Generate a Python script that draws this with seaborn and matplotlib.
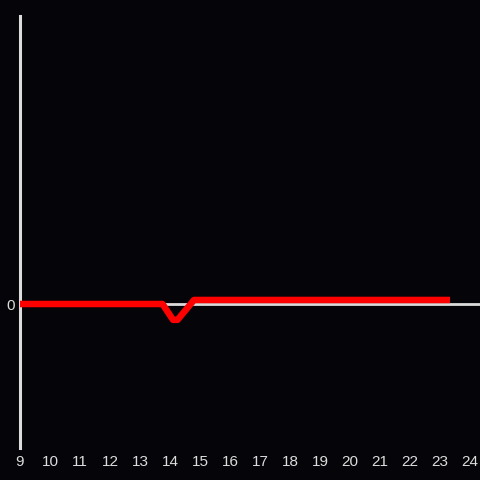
import pandas as pd
import matplotlib
matplotlib.use('Agg')
import matplotlib.pyplot as plt
import seaborn as sns

# horas do dia e valor da serie
horas = [9.0, 13.75, 14.1, 14.25, 14.8, 23.33]
valores = [0.0, 0.0, -0.11, -0.11, 0.028, 0.028]
ticks_x = list(range(9, 25))

df = pd.DataFrame({'hora': horas, 'valor': valores})

sns.set_style('dark')
plt.rcParams['font.family'] = ['Liberation Sans', 'DejaVu Sans']

fundo = '#050408'
cinza = '#dcdcdc'

fig = plt.figure(figsize=(4.8, 4.8), dpi=100, facecolor=fundo)
ax = fig.add_axes([20 / 480, 32 / 480, 460 / 480, 432 / 480])
ax.set_facecolor(fundo)

ax.axhline(0, color=cinza, linewidth=2, zorder=1)
sns.lineplot(data=df, x='hora', y='valor', ax=ax, color='#ff0000',
             linewidth=4.7, zorder=3, solid_joinstyle='round',
             solid_capstyle='butt')

ax.set_xlim(9, 24.33)
ax.set_ylim(-1, 2)
ax.set_xticks(ticks_x)
ax.set_yticks([0])
ax.set_xlabel('')
ax.set_ylabel('')
ax.grid(False)

for lado in ['top', 'right', 'bottom']:
    ax.spines[lado].set_visible(False)
ax.spines['left'].set_visible(True)
ax.spines['left'].set_color(cinza)
ax.spines['left'].set_linewidth(2.2)

ax.tick_params(axis='both', length=0, colors=cinza, labelsize=11)
ax.tick_params(axis='x', pad=5)
ax.tick_params(axis='y', pad=4)

fig.savefig('out.png', dpi=100, facecolor=fundo)
